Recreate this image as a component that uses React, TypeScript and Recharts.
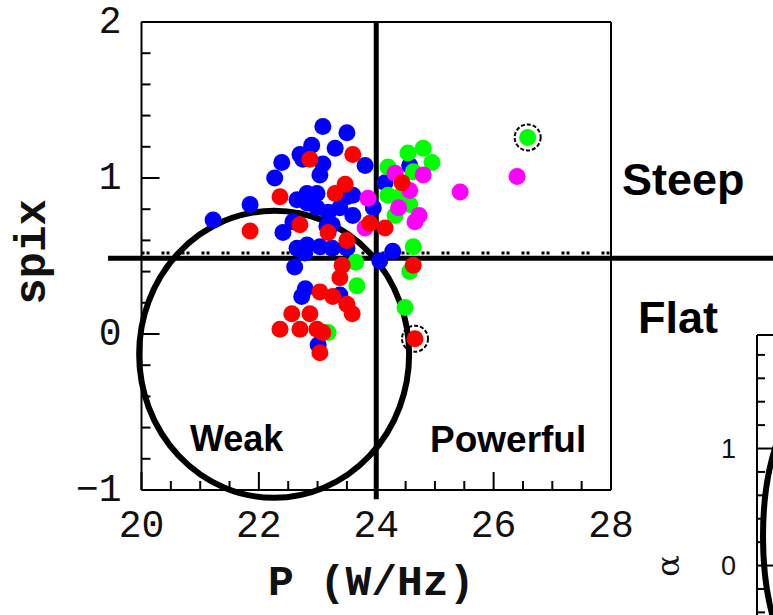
import React from 'react';
import {
  ScatterChart,
  Scatter,
  XAxis,
  YAxis,
  ReferenceLine,
  ReferenceArea,
  ReferenceDot,
} from 'recharts';

// P (W/Hz) vs spectral index, one array per colour group
const bluePts = [
  { p: 21.22, s: 0.73 }, { p: 21.85, s: 0.83 }, { p: 22.41, s: 0.65 }, { p: 22.39, s: 1.10 },
  { p: 22.27, s: 1.0 }, { p: 22.7, s: 1.15 }, { p: 22.9, s: 1.21 }, { p: 23.09, s: 1.33 },
  { p: 23.5, s: 1.29 }, { p: 23.3, s: 1.19 }, { p: 23.81, s: 1.08 }, { p: 23.09, s: 1.09 },
  { p: 22.75, s: 1.12 }, { p: 23.04, s: 1.02 }, { p: 22.82, s: 0.9 }, { p: 22.99, s: 0.9 },
  { p: 23.6, s: 0.89 }, { p: 22.82, s: 0.84 }, { p: 23.38, s: 0.81 }, { p: 22.99, s: 0.81 },
  { p: 23.6, s: 0.76 }, { p: 23.95, s: 0.81 }, { p: 23.16, s: 0.69 }, { p: 22.65, s: 0.86 },
  { p: 22.87, s: 0.86 }, { p: 22.58, s: 0.72 }, { p: 22.82, s: 0.57 }, { p: 23.04, s: 0.56 },
  { p: 23.25, s: 0.55 }, { p: 23.5, s: 0.55 }, { p: 22.65, s: 0.55 }, { p: 22.78, s: 0.52 },
  { p: 22.61, s: 0.43 }, { p: 22.79, s: 0.29 }, { p: 22.73, s: 0.24 }, { p: 23.38, s: 0.25 },
  { p: 23.01, s: -0.07 }, { p: 24.06, s: 0.47 }, { p: 24.28, s: 0.53 }, { p: 24.15, s: 0.97 },
  { p: 24.57, s: 1.08 }, { p: 23.18, s: 0.78 }, { p: 23.25, s: 0.7 }, { p: 23.5, s: 0.88 },
];

const greenPts = [
  { p: 24.2, s: 1.07 }, { p: 24.54, s: 1.16 }, { p: 24.8, s: 1.19 }, { p: 24.95, s: 1.1 },
  { p: 24.63, s: 1.04 }, { p: 24.2, s: 0.89 }, { p: 24.4, s: 0.88 }, { p: 24.57, s: 0.83 },
  { p: 24.32, s: 0.76 }, { p: 24.63, s: 0.56 }, { p: 24.57, s: 0.4 }, { p: 24.49, s: 0.17 },
  { p: 23.67, s: 0.31 }, { p: 23.65, s: 0.46 }, { p: 23.18, s: 0.01 }, { p: 26.58, s: 1.26 },
];

const magentaPts = [
  { p: 23.86, s: 0.87 }, { p: 24.32, s: 1.03 }, { p: 24.8, s: 1.02 }, { p: 24.57, s: 0.92 },
  { p: 24.38, s: 0.81 }, { p: 24.73, s: 0.76 }, { p: 24.66, s: 0.72 }, { p: 23.81, s: 0.68 },
  { p: 25.43, s: 0.91 }, { p: 26.4, s: 1.01 },
];

const redPts = [
  { p: 22.87, s: 1.12 }, { p: 22.36, s: 0.88 }, { p: 23.6, s: 1.15 }, { p: 23.47, s: 0.96 },
  { p: 23.3, s: 0.9 }, { p: 21.85, s: 0.66 }, { p: 22.7, s: 0.7 }, { p: 23.89, s: 0.71 },
  { p: 24.15, s: 0.68 }, { p: 23.5, s: 0.6 }, { p: 24.44, s: 0.97 }, { p: 24.63, s: 0.44 },
  { p: 23.42, s: 0.44 }, { p: 23.38, s: 0.36 }, { p: 23.04, s: 0.27 }, { p: 23.26, s: 0.24 },
  { p: 23.5, s: 0.19 }, { p: 23.59, s: 0.13 }, { p: 22.56, s: 0.13 }, { p: 22.87, s: 0.13 },
  { p: 22.36, s: 0.03 }, { p: 22.7, s: 0.03 }, { p: 22.99, s: 0.03 }, { p: 23.09, s: 0.01 },
  { p: 23.04, s: -0.12 }, { p: 24.66, s: -0.03 }, { p: 23.18, s: 0.65 },
];

const circledPts = [{ p: 26.58, s: 1.26 }, { p: 24.66, s: -0.03 }];

const xTicks = [20, 20.5, 21, 21.5, 22, 22.5, 23, 23.5, 24, 24.5, 25, 25.5, 26, 26.5, 27, 27.5, 28];
const xLabels = [20, 22, 24, 26, 28];
const yTicks = [-1, -0.8, -0.6, -0.4, -0.2, 0, 0.2, 0.4, 0.6, 0.8, 1, 1.2, 1.4, 1.6, 1.8, 2];
const yLabels = [-1, 0, 1, 2];

// second (cut off) panel
const aTicks = [-1.2, -1, -0.8, -0.6, -0.4, -0.2, 0, 0.2, 0.4, 0.6, 0.8, 1, 1.2, 1.4, 1.6, 1.8];
const aLabels = [0, 1];
const aAnchor = [{ p: 5, s: 0 }];

const tickFont = '"Liberation Mono", "DejaVu Sans Mono", monospace';
const boldSans = '"Liberation Sans", Arial, sans-serif';

const isIn = (arr: number[], v: number) => arr.some((a) => Math.abs(a - v) < 1e-6);

const XTick = ({ x, y, payload, side }: any) => {
  const major = isIn(xLabels, payload.value);
  const len = major ? 18 : 9;
  const dir = side === 'top' ? 1 : -1;
  return (
    <g>
      <line x1={x} y1={y} x2={x} y2={y + dir * len} stroke="#000" strokeWidth={2} />
      {side !== 'top' && major && (
        <text x={x} y={y + 47} textAnchor="middle" fontFamily={tickFont} fontSize={38} fill="#111">
          {payload.value}
        </text>
      )}
    </g>
  );
};

const YTick = ({ x, y, payload, side, labels, labelSize, font, gap, len: baseLen }: any) => {
  const major = isIn(labels, payload.value);
  const len = major ? baseLen * 2 : baseLen;
  const dir = side === 'right' ? -1 : 1;
  const v = payload.value;
  return (
    <g>
      <line x1={x} y1={y} x2={x + dir * len} y2={y} stroke="#000" strokeWidth={2} />
      {side !== 'right' && major && (
        <text
          x={x - gap}
          y={y}
          textAnchor="end"
          dominantBaseline="central"
          fontFamily={font}
          fontSize={labelSize}
          fill="#111"
        >
          {v < 0 ? '\u2212' + Math.abs(v) : v}
        </text>
      )}
    </g>
  );
};

const dot = (color: string) => (props: any) =>
  <circle cx={props.cx} cy={props.cy} r={8.5} fill={color} />;

const noDot = () => <g />;

const EllipseShape = (props: any) => {
  const { x, y, width, height } = props;
  return (
    <ellipse
      cx={x + width / 2}
      cy={y + height / 2}
      rx={Math.abs(width) / 2}
      ry={Math.abs(height) / 2}
      fill="none"
      stroke="#000"
      strokeWidth={6}
    />
  );
};

const label = (text: string, left: number, top: number, size: number) => (
  <div
    style={{
      position: 'absolute',
      left,
      top,
      fontFamily: boldSans,
      fontWeight: 700,
      fontSize: size,
      lineHeight: 1,
      color: '#000',
      whiteSpace: 'nowrap',
    }}
  >
    {text}
  </div>
);

export default function App() {
  return (
    <div
      style={{
        position: 'absolute',
        left: 0,
        top: 0,
        width: 773,
        height: 615,
        overflow: 'hidden',
        background: '#fff',
      }}
    >
      {/* cut-off neighbouring panel */}
      <div style={{ position: 'absolute', left: 0, top: 0 }}>
        <ScatterChart width={1100} height={720} margin={{ top: 335, right: 43, bottom: 14, left: 756 }}>
          <XAxis type="number" dataKey="p" domain={[0, 10]} allowDataOverflow hide />
          <YAxis
            type="number"
            dataKey="s"
            domain={[-1.2, 1.97]}
            allowDataOverflow
            ticks={aTicks}
            interval={0}
            width={1}
            tickSize={0}
            tickMargin={0}
            axisLine={{ stroke: '#000', strokeWidth: 2 }}
            tick={<YTick side="left" labels={aLabels} labelSize={27} font={boldSans} gap={21} len={8} />}
          />
          <ReferenceLine
            segment={[{ x: 0, y: 1.97 }, { x: 10, y: 1.97 }]}
            stroke="#000"
            strokeWidth={2}
            ifOverflow="visible"
          />
          <ReferenceArea
            x1={0.2}
            x2={4.2}
            y1={-1.0}
            y2={1.5}
            ifOverflow="visible"
            shape={EllipseShape}
          />
          <Scatter data={aAnchor} shape={noDot} isAnimationActive={false} />
        </ScatterChart>
      </div>

      <div style={{ position: 'absolute', left: 0, top: 0 }}>
        <ScatterChart width={773} height={615} margin={{ top: 21, right: 161, bottom: 124, left: 140.5 }}>
          <XAxis
            type="number"
            dataKey="p"
            domain={[20, 28]}
            ticks={xTicks}
            interval={0}
            height={1}
            tickSize={0}
            tickMargin={0}
            axisLine={{ stroke: '#000', strokeWidth: 2 }}
            tick={<XTick side="bottom" />}
          />
          <XAxis
            xAxisId="top"
            orientation="top"
            type="number"
            dataKey="p"
            domain={[20, 28]}
            ticks={xTicks}
            interval={0}
            height={1}
            tickSize={0}
            tickMargin={0}
            axisLine={{ stroke: '#000', strokeWidth: 2 }}
            tick={<XTick side="top" />}
          />
          <YAxis
            type="number"
            dataKey="s"
            domain={[-1, 2]}
            ticks={yTicks}
            interval={0}
            width={1}
            tickSize={0}
            tickMargin={0}
            axisLine={{ stroke: '#000', strokeWidth: 2 }}
            tick={<YTick side="left" labels={yLabels} labelSize={38} font={tickFont} gap={20} len={9} />}
          />
          <YAxis
            yAxisId="right"
            orientation="right"
            type="number"
            dataKey="s"
            domain={[-1, 2]}
            ticks={yTicks}
            interval={0}
            width={1}
            tickSize={0}
            tickMargin={0}
            axisLine={{ stroke: '#000', strokeWidth: 2 }}
            tick={<YTick side="right" labels={yLabels} labelSize={38} font={tickFont} gap={20} len={9} />}
          />

          <ReferenceLine
            segment={[{ x: 20, y: 0.52 }, { x: 28, y: 0.52 }]}
            stroke="#000"
            strokeWidth={3}
            strokeDasharray="3 2 3 12"
          />

          <Scatter data={bluePts} fill="#0000ff" shape={dot('#0000ff')} isAnimationActive={false} />
          <Scatter data={greenPts} fill="#00ff00" shape={dot('#00ff00')} isAnimationActive={false} />
          <Scatter data={magentaPts} fill="#ff00ff" shape={dot('#ff00ff')} isAnimationActive={false} />
          <Scatter data={redPts} fill="#ff0000" shape={dot('#ff0000')} isAnimationActive={false} />

          {circledPts.map((c, i) => (
            <ReferenceDot
              key={i}
              x={c.p}
              y={c.s}
              r={13}
              fill="none"
              stroke="#000"
              strokeWidth={2}
              strokeDasharray="4 2"
              ifOverflow="visible"
            />
          ))}

          <ReferenceLine
            segment={[{ x: 19.43, y: 0.485 }, { x: 31, y: 0.485 }]}
            stroke="#000"
            strokeWidth={5}
            ifOverflow="visible"
          />
          <ReferenceLine
            segment={[{ x: 24, y: 2 }, { x: 24, y: -1.06 }]}
            stroke="#000"
            strokeWidth={5}
            ifOverflow="visible"
          />
          <ReferenceArea
            x1={19.96}
            x2={24.56}
            y1={-1.05}
            y2={0.79}
            ifOverflow="visible"
            shape={EllipseShape}
          />
        </ScatterChart>
      </div>

      {/* axis titles */}
      <div
        style={{
          position: 'absolute',
          left: 268,
          top: 562,
          fontFamily: tickFont,
          fontSize: 43,
          fontWeight: 700,
          lineHeight: 1,
          color: '#111',
          whiteSpace: 'nowrap',
        }}
      >
        P (W/Hz)
      </div>
      <div
        style={{
          position: 'absolute',
          left: 33,
          top: 252,
          transform: 'translate(-50%, -50%) rotate(-90deg)',
          fontFamily: tickFont,
          fontSize: 44,
          fontWeight: 700,
          lineHeight: 1,
          color: '#111',
          whiteSpace: 'nowrap',
        }}
      >
        spix
      </div>
      <div
        style={{
          position: 'absolute',
          left: 668,
          top: 566,
          transform: 'translate(-50%, -50%) rotate(-90deg)',
          fontFamily: '"DejaVu Serif", serif',
          fontSize: 32,
          lineHeight: 1,
          color: '#111',
        }}
      >
        α
      </div>

      {label('Steep', 622, 157, 45)}
      {label('Flat', 638, 295, 45)}
      {label('Weak', 190, 421, 36)}
      {label('Powerful', 430, 421, 37)}
    </div>
  );
}
